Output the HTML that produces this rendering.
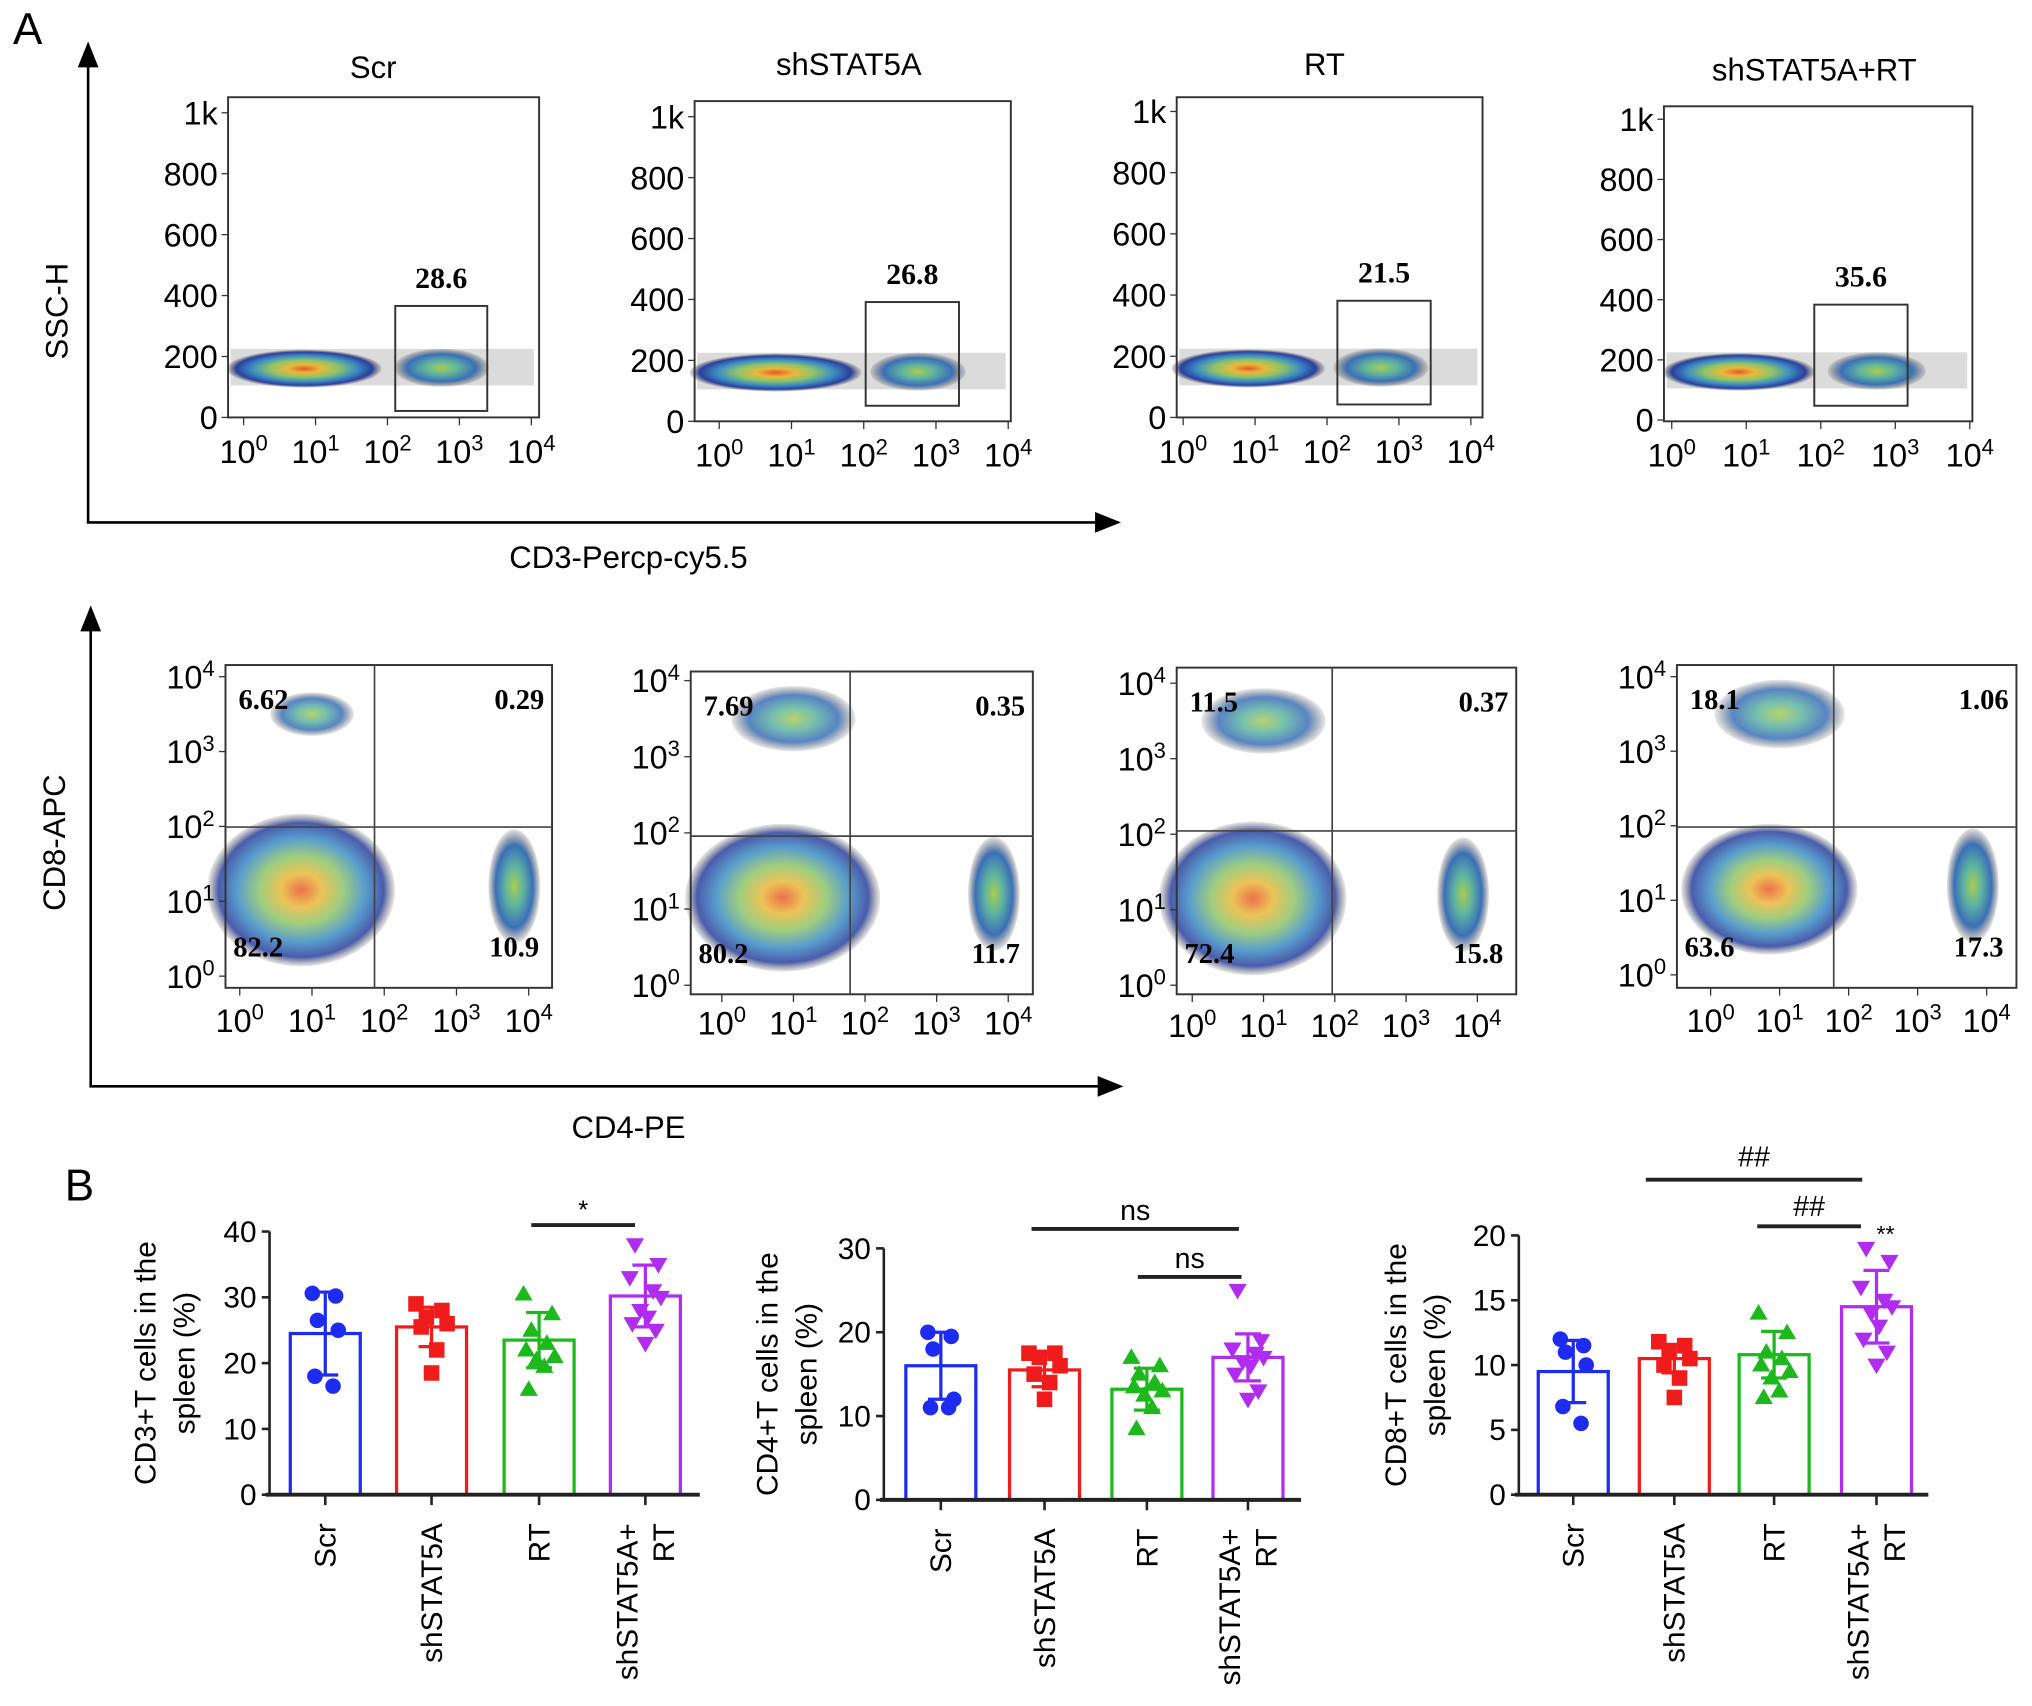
<!DOCTYPE html>
<html><head><meta charset="utf-8">
<style>
html,body{margin:0;padding:0;background:#fff;}
svg{display:block;font-family:"Liberation Sans",sans-serif;}
</style></head>
<body>
<svg id="fig" width="2032" height="1706" viewBox="0 0 1568 1316" preserveAspectRatio="none" xmlns="http://www.w3.org/2000/svg">
<defs>
<radialGradient id="heat" cx="50%" cy="50%" r="50%">
<stop offset="0" stop-color="#e8582a"/>
<stop offset="0.22" stop-color="#e9b93a"/>
<stop offset="0.45" stop-color="#8cc46a"/>
<stop offset="0.68" stop-color="#3c8cc4"/>
<stop offset="0.88" stop-color="#2a3f9c"/>
<stop offset="1" stop-color="#555" stop-opacity="0.15"/>
</radialGradient>
<radialGradient id="heat2" cx="50%" cy="50%" r="50%">
<stop offset="0" stop-color="#a9cc50"/>
<stop offset="0.35" stop-color="#5fb4a0"/>
<stop offset="0.72" stop-color="#3a6fb8"/>
<stop offset="1" stop-color="#555" stop-opacity="0.15"/>
</radialGradient>
<marker id="arr" markerWidth="10" markerHeight="10" refX="5" refY="5" orient="auto"><path d="M0,1 L10,5 L0,9 z" fill="#000"/></marker>
</defs>
</svg>
<script>
// ---------- DATA ----------
const groups = ["Scr","shSTAT5A","RT","shSTAT5A+RT"];
const cd3Gate = [28.6, 26.8, 21.5, 35.6];
const quadUL = [6.62, 7.69, 11.5, 18.1];
const quadUR = [0.29, 0.35, 0.37, 1.06];
const quadLL = [82.2, 80.2, 72.4, 63.6];
const quadLR = [10.9, 11.7, 15.8, 17.3];
const sscTicks = ["0","200","400","600","800","1k"];
const sscTickVals = [0,200,400,600,800,1000];
const logTicks = [0,1,2,3,4];

const cd3Mean = [24.5, 25.5, 23.5, 30.2];
const cd3SD = [6.3, 3.0, 4.2, 4.7];
const cd3Pts = [[30.6,30.2,26.5,25,18,16.5],[29,28,27,26,25.5,22,18.5],[30.5,27.5,25,23,22,21,20.5,19.5,16],[38,35,33,31,30,28,27,26,25,23]];
const cd4Mean = [16, 15.5, 13.2, 17];
const cd4SD = [4, 2, 2.5, 2.8];
const cd4Pts = [[20,19.5,18,12,11,11],[17.5,17.5,17,16,15,14,12],[17,16,15,14,13.5,13,12.5,11,8.5],[25,19,18,17.5,17,16.5,16,15,13,12]];
const cd8Mean = [9.5, 10.5, 10.8, 14.5];
const cd8SD = [2.4, 1.1, 1.8, 2.8];
const cd8Pts = [[12,11.5,11,10,6.8,5.5],[11.8,11.5,11,10.5,10,9,7.5],[14,12.5,11,10.5,10,9.5,9,8,7.5],[19,18,16,15,14.5,14,13,12,11,10]];

const NS="http://www.w3.org/2000/svg";
const svg=document.getElementById('fig');
function el(tag,attrs,parent,text){const e=document.createElementNS(NS,tag);for(const k in attrs)e.setAttribute(k,attrs[k]);if(text!==undefined)e.textContent=text;(parent||svg).appendChild(e);return e;}
function supText(parent,x,y,base,exp,size){const t=el('text',{x:x,y:y,'font-size':size,'text-anchor':'middle'},parent);el('tspan',{},t,base);el('tspan',{dy:-size*0.38,'font-size':size*0.68},t,exp);return t;}

let t=el('text',{x:10,y:34,'font-size':34},svg,'A');

t=el('text',{x:50,y:926,'font-size':34},svg,'B');


let ax=el('line',{x1:68,y1:403,x2:68,y2:42,stroke:'#000','stroke-width':2,'marker-end':'url(#arr)'});

ax=el('line',{x1:67,y1:403,x2:855,y2:403,stroke:'#000','stroke-width':2,'marker-end':'url(#arr)'});

t=el('text',{x:0,y:0,'font-size':24,'text-anchor':'middle',transform:'translate(52,240) rotate(-90)'},svg,'SSC-H');

t=el('text',{x:485,y:438,'font-size':24,'text-anchor':'middle'},svg,'CD3-Percp-cy5.5');

ax=el('line',{x1:70,y1:838,x2:70,y2:477,stroke:'#000','stroke-width':2,'marker-end':'url(#arr)'});

ax=el('line',{x1:69,y1:838,x2:857,y2:838,stroke:'#000','stroke-width':2,'marker-end':'url(#arr)'});

t=el('text',{x:0,y:0,'font-size':24,'text-anchor':'middle',transform:'translate(50,650) rotate(-90)'},svg,'CD8-APC');

t=el('text',{x:485,y:878,'font-size':24,'text-anchor':'middle'},svg,'CD4-PE');


// ---------- CD3 flow panels ----------
const topGeom=[
 {l:176,r:416,t:75,b:322,y0:322,y1k:87,xa:188,xb:410,gx1:305,gx2:376,gy1:236,gy2:317,title:288,ty:60},
 {l:536,r:780,t:78,b:325,y0:325,y1k:90,xa:555,xb:778,gx1:668,gx2:740,gy1:233,gy2:313,title:655,ty:58},
 {l:908,r:1144,t:75,b:322,y0:322,y1k:86,xa:913,xb:1135,gx1:1032,gx2:1104,gy1:232,gy2:312,title:1022,ty:58},
 {l:1284,r:1522,t:82,b:325,y0:324,y1k:92,xa:1290,xb:1520,gx1:1400,gx2:1472,gy1:235,gy2:313,title:1400,ty:62}
];
const negW=[0.95,1.0,1.0,0.95];
topGeom.forEach((g,i)=>{
 const G=el('g',{});
 const ys=v=>g.y0+(g.y1k-g.y0)*v/1000, xs=d=>g.xa+(g.xb-g.xa)*d/4;
 let tt=el('text',{x:g.title,y:g.ty,'font-size':24,'text-anchor':'middle'},G,groups[i]);
 
 let p=el('rect',{x:g.l+2,y:ys(225),width:(g.r-g.l)-6,height:ys(105)-ys(225),fill:'#888',opacity:0.3},G);
 
 p=el('ellipse',{cx:(g.l+xs(1.9))/2,cy:ys(160),rx:(xs(1.9)-g.l)/2*negW[i]+4,ry:(ys(100)-ys(225))/2,fill:'url(#heat)'},G);
 
 p=el('ellipse',{cx:xs(2.75),cy:ys(163),rx:(xs(3.35)-xs(2.1))/2+2,ry:(ys(100)-ys(225))/2,fill:'url(#heat2)'},G);
 
 let box=el('rect',{x:g.l,y:g.t,width:g.r-g.l,height:g.b-g.t,fill:'none',stroke:'#333','stroke-width':1.5},G);
 
 let gate=el('rect',{x:g.gx1,y:g.gy1,width:g.gx2-g.gx1,height:g.gy2-g.gy1,fill:'none',stroke:'#333','stroke-width':1.5},G);
 
 let gl=el('text',{x:(g.gx1+g.gx2)/2,y:g.gy1-14,'font-size':23,'font-weight':'bold','font-family':'Liberation Serif,serif','text-anchor':'middle'},G,cd3Gate[i].toFixed(1));
 
 sscTickVals.forEach((v,k)=>{
  el('line',{x1:g.l-5,x2:g.l,y1:ys(v),y2:ys(v),stroke:'#333'},G);
  let tk=el('text',{x:g.l-8,y:ys(v)+9,'font-size':25,'text-anchor':'end'},G,sscTicks[k]);
  
 });
 logTicks.forEach(d=>{
  el('line',{x1:xs(d),x2:xs(d),y1:g.b,y2:g.b+6,stroke:'#333'},G);
  let tk=supText(G,xs(d),g.b+35,'10',String(d),25);
  
 });
});

// ---------- CD4/CD8 quadrant panels ----------
const qGeom=[
 {l:174,r:426,t:513,b:762,ya:753,yb:522,xa:185,xb:408,qx:289,qy:638,tky:796},
 {l:533,r:797,t:518,b:767,ya:760,yb:525,xa:557,xb:778,qx:656,qy:645,tky:798},
 {l:908,r:1170,t:515,b:767,ya:760,yb:527,xa:920,xb:1140,qx:1028,qy:641,tky:800},
 {l:1294,r:1556,t:513,b:762,ya:752,yb:522,xa:1320,xb:1533,qx:1415,qy:638,tky:796}
];
const llSize=[1.0,0.95,1.0,0.85], ulSize=[0.45,0.8,0.8,0.85];
qGeom.forEach((g,i)=>{
 const G=el('g',{});
 const ys=d=>g.ya+(g.yb-g.ya)*d/4, xs=d=>g.xa+(g.xb-g.xa)*d/4;
 let p=el('ellipse',{cx:xs(0.85),cy:ys(1.15),rx:(xs(1.9)-g.l)/2*llSize[i]+14,ry:(ys(0)-ys(1.9))/2*llSize[i]+4,fill:'url(#heat)',opacity:0.85},G);
 
 p=el('ellipse',{cx:xs(3.8),cy:ys(1.2),rx:20,ry:44,fill:'url(#heat2)'},G);
 
 p=el('ellipse',{cx:xs(1.0),cy:ys(3.5),rx:45*ulSize[i]+12,ry:24*ulSize[i]+6,fill:'url(#heat2)',opacity:0.85},G);
 
 let box=el('rect',{x:g.l,y:g.t,width:g.r-g.l,height:g.b-g.t,fill:'none',stroke:'#333','stroke-width':1.5},G);
 
 let q=el('line',{x1:g.qx,x2:g.qx,y1:g.t,y2:g.b,stroke:'#444','stroke-width':1.3},G);
 
 q=el('line',{x1:g.l,x2:g.r,y1:g.qy,y2:g.qy,stroke:'#444','stroke-width':1.3},G);
 
 const fs={'font-size':22,'font-weight':'bold','font-family':'Liberation Serif,serif'};
 let a=el('text',Object.assign({x:g.l+10,y:g.t+34},fs),G,String(quadUL[i]));
 a=el('text',Object.assign({x:g.r-6,y:g.t+34,'text-anchor':'end'},fs),G,String(quadUR[i]));
 a=el('text',Object.assign({x:g.l+6,y:g.b-24},fs),G,String(quadLL[i]));
 a=el('text',Object.assign({x:g.r-10,y:g.b-24,'text-anchor':'end'},fs),G,String(quadLR[i]));
 logTicks.forEach(d=>{
  el('line',{x1:g.l-5,x2:g.l,y1:ys(d),y2:ys(d),stroke:'#333'},G);
  let tk=supText(G,g.l-27,ys(d)+9,'10',String(d),25);
  
  el('line',{x1:xs(d),x2:xs(d),y1:g.b,y2:g.b+6,stroke:'#333'},G);
  tk=supText(G,xs(d),g.tky,'10',String(d),25);
  
 });
});

// ---------- Bar charts ----------
const colors=['#1d2cf0','#f01c1c','#1cb81c','#b02cf0'];
const jit=[[-10,8,-6,10,-8,6,-2,4,-4,2],[-12,8,-4,12,-8,4,0,10,-10,6],[-12,10,-6,6,-10,12,-2,4,-8,8],[-8,10,-12,6,12,-4,2,-10,8,0]];
const barCharts=[
 {name:'cd3',l:208,r:540,y0:1153,ytop:950,max:40,step:10,cx:[251,333,416,498],mean:cd3Mean,sd:cd3SD,pts:cd3Pts,lab1:'CD3+T cells in the',lx:120,
  sig:[{x1:410,x2:490,y:945,txt:'*',ty:940}]},
 {name:'cd4',l:682,r:1004,y0:1157,ytop:963,max:30,step:10,cx:[726,806,885,963],mean:cd4Mean,sd:cd4SD,pts:cd4Pts,lab1:'CD4+T cells in the',lx:600,
  sig:[{x1:796,x2:956,y:948,txt:'ns',ty:941},{x1:878,x2:958,y:985,txt:'ns',ty:978}]},
 {name:'cd8',l:1172,r:1488,y0:1153,ytop:953,max:20,step:5,cx:[1214,1292,1369,1448],mean:cd8Mean,sd:cd8SD,pts:cd8Pts,lab1:'CD8+T cells in the',lx:1085,
  sig:[{x1:1270,x2:1437,y:910,txt:'##',ty:900},{x1:1356,x2:1436,y:946,txt:'##',ty:938}],star:{x:1455,y:958,txt:'**'}}
];
barCharts.forEach(c=>{
 const G=el('g',{});
 const ys=v=>c.y0+(c.ytop-c.y0)*v/c.max;
 const bw=54;
 c.cx.forEach((x,i)=>{
  let b=el('rect',{x:x-bw/2,y:ys(c.mean[i]),width:bw,height:c.y0-ys(c.mean[i]),fill:'none',stroke:colors[i],'stroke-width':2.5},G);
  
  const hi=ys(c.mean[i]+c.sd[i]), lo=ys(c.mean[i]-c.sd[i]);
  let e=el('path',{d:`M${x},${hi}V${lo}M${x-10},${hi}H${x+10}M${x-10},${lo}H${x+10}`,stroke:colors[i],'stroke-width':2.5,fill:'none'},G);
  
  c.pts[i].forEach((v,k)=>{
   const px=x+jit[i][k%10], py=ys(v);let m;
   if(i===0)m=el('circle',{cx:px,cy:py,r:6,fill:colors[i]},G);
   else if(i===1)m=el('rect',{x:px-6,y:py-6,width:12,height:12,fill:colors[i]},G);
   else if(i===2)m=el('path',{d:`M${px},${py-7}L${px+7},${py+5}L${px-7},${py+5}Z`,fill:colors[i]},G);
   else m=el('path',{d:`M${px},${py+7}L${px+7},${py-5}L${px-7},${py-5}Z`,fill:colors[i]},G);
   
  });
  const tx=x, lines=groups[i]==='shSTAT5A+RT'?['shSTAT5A+','RT']:[groups[i]];
  lines.forEach((s,k)=>{
   let l=el('text',{x:0,y:0,'font-size':23,'text-anchor':'end',transform:`translate(${tx+8+(lines.length>1?(k?14:-14):0)},${c.y0+22}) rotate(-90)`},G,s);
   
  });
 });
 let a=el('line',{x1:c.l,x2:c.l,y1:c.y0,y2:c.ytop,stroke:'#222','stroke-width':2},G);
 
 a=el('line',{x1:c.l-3,x2:c.r,y1:c.y0,y2:c.y0,stroke:'#222','stroke-width':3},G);
 
 c.cx.forEach(x=>el('line',{x1:x,x2:x,y1:c.y0,y2:c.y0+8,stroke:'#222','stroke-width':2},G));
 for(let v=0;v<=c.max;v+=c.step){
  el('line',{x1:c.l-6,x2:c.l,y1:ys(v),y2:ys(v),stroke:'#222','stroke-width':2},G);
  let tk=el('text',{x:c.l-10,y:ys(v)+8,'font-size':23,'text-anchor':'end'},G,String(v));
  
 }
 let yl=el('text',{x:0,y:0,'font-size':23,'text-anchor':'middle',transform:`translate(${c.lx},${(c.y0+c.ytop)/2}) rotate(-90)`},G,c.lab1);
 
 yl=el('text',{x:0,y:0,'font-size':23,'text-anchor':'middle',transform:`translate(${c.lx+30},${(c.y0+c.ytop)/2}) rotate(-90)`},G,'spleen (%)');
 
 c.sig.forEach(s=>{
  let l=el('line',{x1:s.x1,x2:s.x2,y1:s.y,y2:s.y,stroke:'#222','stroke-width':3},G);
  
  let tx=el('text',{x:(s.x1+s.x2)/2,y:s.ty,'font-size':s.txt==='*'?20:22,'text-anchor':'middle'},G,s.txt);
  
 });
 if(c.star){let st=el('text',{x:c.star.x,y:c.star.y,'font-size':18,'text-anchor':'middle'},G,c.star.txt);
  }
});
</script>
</body></html>
